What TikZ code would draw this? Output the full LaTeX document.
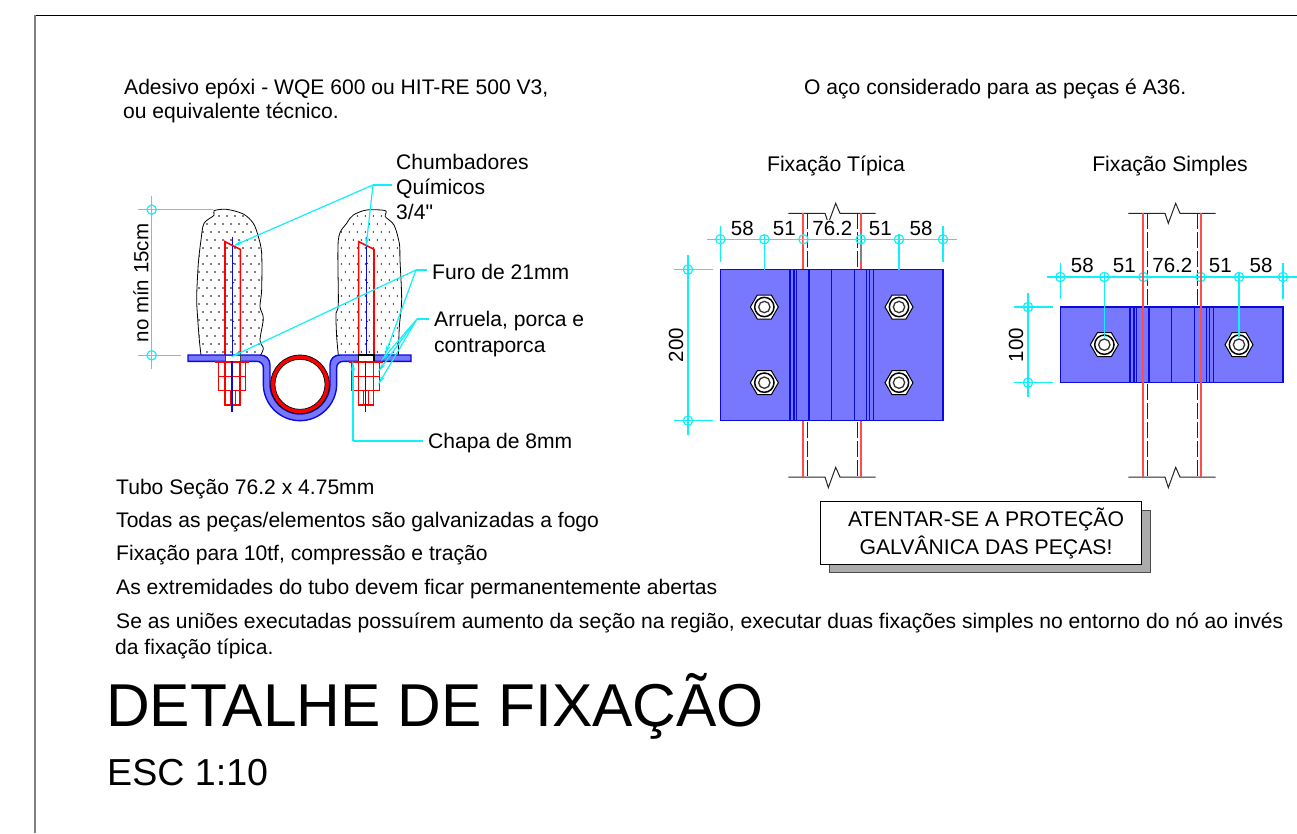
\documentclass[tikz,border=0pt]{standalone}
\usepackage{fontspec}
\setmainfont{Liberation Sans}
\newfontfamily\plainquote{Liberation Sans}
\usetikzlibrary{arrows.meta,calc}
\definecolor{plate}{HTML}{7878FF}
\definecolor{plateedge}{HTML}{0A0ADC}
\definecolor{dimcyan}{HTML}{10F0F8}
\tikzset{
  txt/.style={anchor=base west,inner sep=0pt,yshift=-1pt,font=\fontsize{21.08}{23}\selectfont},
  txtc/.style={anchor=base,inner sep=0pt,yshift=-1pt,font=\fontsize{21.2}{23}\selectfont},
  dimtxt/.style={inner sep=0pt,font=\fontsize{20.5}{22}\selectfont},
  dimb/.style={dimtxt,anchor=base},
  dimline/.style={draw=dimcyan,line width=1.2pt},
  leader/.style={draw=dimcyan,line width=1.2pt},
  leadarrow/.style={leader,-{Stealth[length=10pt,width=4pt,fill=dimcyan]}},
  breakline/.style={draw=black!85,line width=1pt},
  tubered/.style={draw=red!70!white,line width=1.7pt},
  tubedash/.style={draw=black!85,line width=1pt,dash pattern=on 16pt off 3pt},
  platefill/.style={fill=plate,draw=plateedge,line width=1.4pt},
  plateline/.style={draw=plateedge,line width=1.2pt},
  redline/.style={draw=red,line width=1.6pt},
  blueline/.style={draw=plateedge,line width=1.5pt},
  concrete/.style={draw=black,line width=0.8pt}
}
\newcommand{\dimtick}[2]{\draw[dimline] (#1,#2) circle (14);}
\newcommand{\nutbolt}[1]{%
  \draw[redline] (#1-51,96) -- (#1+52,96);
  \draw[redline] (#1-41,96) -- (#1-41,182) -- (#1+41,182) -- (#1+41,96);
  \draw[redline] (#1-41,140) -- (#1+41,140);
  \draw[redline] (#1-21,96) -- (#1-21,225) -- (#1+24,225) -- (#1+24,96);
  \draw[red,line width=1pt] (#1-6,182) -- (#1-6,225) (#1+9,182) -- (#1+9,225);
  \draw[blueline] (#1,94) -- (#1,247);
}
\newcommand{\rod}[1]{%
  \draw[blueline] (#1,290) -- (#1,645);
  \foreach \yy in {370,428,486,544,602} {\fill[plateedge] (#1+3,\yy) circle (2);}
  \draw[redline] (#1-23,645) -- (#1-23,305) -- (#1+23,328) -- (#1+23,645);
}
\newcommand{\bolthead}[2]{%
  \draw[fill=white,draw=black,line width=1pt] (#1-42,#2) -- (#1-21,#2-36) -- (#1+21,#2-36) -- (#1+42,#2) -- (#1+21,#2+36) -- (#1-21,#2+36) -- cycle;
  \draw[black,line width=1.5pt] (#1,#2) circle (29);
  \draw[black!80,line width=1.3pt] (#1,#2) circle (17);
}
\newcommand{\platebody}[2]{%
  \draw[platefill] (181,#1) rectangle (849,#2);
  \foreach \xx in {390,402,410,447,515,583,620,628,640} {\draw[plateline] (\xx,#1) -- (\xx,#2);}
}
\newcommand{\breaks}{%
  \draw[breakline] (385,70) -- (495,70) -- (505,100) -- (527,40) -- (540,70) -- (647,70);
  \draw[breakline] (385,861) -- (495,861) -- (505,893) -- (527,832) -- (540,861) -- (647,861);
  \draw[tubedash] (441.5,70) -- (441.5,861);
  \draw[tubedash] (592,70) -- (592,861);
}
\newcommand{\hdim}[2]{%
  \draw[dimline] (140,#1) -- (890,#1);
  \foreach \xx in {181,849} {\draw[dimline] (\xx,#1-41) -- (\xx,#1+67);}
  \foreach \xx in {313,717} {\draw[dimline] (\xx,#1-15) -- (\xx,#2);}
  \foreach \xx in {430.5,602} {\draw[dimline] (\xx,#1-15) -- (\xx,#1+10); \draw[draw=black!50,line width=1pt] (\xx,#1+10) -- (\xx,#1+67);}
  \foreach \xx in {181,313,430.5,602,717,849} {\dimtick{\xx}{#1}}
}
\newcommand{\vdim}[2]{%
  \draw[dimline] (84,#1-43) -- (84,#2+43);
  \draw[dimline] (42,#1) -- (160,#1) (42,#2) -- (160,#2);
  \dimtick{84}{#1}\dimtick{84}{#2}
}
\begin{document}
\begin{tikzpicture}[x=1pt,y=-1pt]
\useasboundingbox (0,0) rectangle (1297,833);
% sheet frame
\draw[black,line width=1pt] (35,15) -- (1297,15);
\draw[black!50,line width=2pt] (35,15) -- (35,833);

% ---------- section ----------
\begin{scope}[shift={(120,140)},scale=1/3]
  \begin{scope}
    \clip plot[smooth,tension=0.5] coordinates {(243,645) (238,600) (232,520) (230,470) (235,370) (243,300) (252,250) (282,226) (282,212) (320,208) (370,222) (400,250) (415,290) (425,340) (425,450) (420,500) (430,535) (420,600) (430,625) (422,645)} -- cycle;
    \foreach \r in {0,...,17} {
      \pgfmathsetmacro{\off}{mod(\r,2)*12}
      \foreach \c in {0,...,10} {\fill[black] ({225+\c*24+\off},{228+\r*24}) circle (2.4);}
    }
  \end{scope}
  \begin{scope}
    \clip plot[smooth,tension=0.5] coordinates {(655,645) (650,590) (648,520) (655,490) (655,300) (680,250) (700,225) (740,210) (796,212) (796,230) (822,255) (838,310) (840,360) (845,480) (838,560) (835,645)} -- cycle;
    \foreach \r in {0,...,17} {
      \pgfmathsetmacro{\off}{mod(\r,2)*12}
      \foreach \c in {0,...,10} {\fill[black] ({640+\c*24+\off},{228+\r*24}) circle (2.4);}
    }
  \end{scope}
  \draw[concrete] plot[smooth,tension=0.5] coordinates {(243,645) (238,600) (232,520) (230,470) (235,370) (243,300) (252,250) (282,226) (282,212) (320,208) (370,222) (400,250) (415,290) (425,340) (425,450) (420,500) (430,535) (420,600) (430,625) (422,645)};
  \draw[concrete] plot[smooth,tension=0.5] coordinates {(655,645) (650,590) (648,520) (655,490) (655,300) (680,250) (700,225) (740,210) (796,212) (796,230) (822,255) (838,310) (840,360) (845,480) (838,560) (835,645)};
  \rod{338}
  \rod{739}
\end{scope}

\begin{scope}[shift={(180,330)},scale=1/3]
  % bent plate
  \draw[platefill] (24,75) -- (240,75) .. controls (258,75) and (270,87) .. (270,105) -- (270,162)
    arc[start angle=180,end angle=0,radius=90]
    -- (450,105) .. controls (450,87) and (462,75) .. (480,75) -- (693,75) -- (693,94) -- (490,94)
    .. controls (478,94) and (470,102) .. (470,114) -- (470,162)
    arc[start angle=0,end angle=180,radius=110] -- (250,114)
    .. controls (250,102) and (242,94) .. (230,94) -- (24,94) -- cycle;
  % holes
  \draw[fill=white,draw=none] (135,75) rectangle (180,94);
  \draw[black!75,line width=0.9pt] (135,94) -- (135,75) -- (180,75) -- (180,94);
  \draw[fill=white,draw=none] (535,75) rectangle (582,94);
  \draw[black,line width=1.4pt] (535,94) -- (535,75) -- (582,75) -- (582,94);
  % tube
  \draw[fill=red,draw=black,line width=0.7pt] (360,163) circle (88);
  \draw[fill=white,draw=black,line width=0.7pt] (360,163) circle (75);
  \nutbolt{156}
  \nutbolt{557}
  \draw[draw=black!45,line width=1pt] (516,96) -- (516,182);
\end{scope}

% ---------- section dimension and leaders ----------
\begin{scope}[shift={(120,140)},scale=1/3]
  \draw[dimline] (95,168) -- (95,688);
  \draw[dimline] (55,209) -- (280,209) (55,646) -- (183,646);
  \dimtick{95}{209}
  \dimtick{95}{646}
\end{scope}
\node[dimtxt,rotate=90] (nomin) at (141,283) {no mín 15cm};

\coordinate (chumEnd) at (392,185);
\coordinate (chumEl) at (373,185);
\coordinate (chumA) at (233,246);
\coordinate (chumB) at (366,247);
\coordinate (furoEnd) at (427,270);
\coordinate (furoEl) at (416,270);
\coordinate (furoA) at (231,357);
\coordinate (furoB) at (385,355);
\coordinate (arrEnd) at (429,319);
\coordinate (arrEl) at (417,319);
\coordinate (arrA) at (381,361);
\coordinate (arrB) at (378,372);
\coordinate (arrC) at (378,385);
\coordinate (chapaEnd) at (423,441);
\coordinate (chapaEl) at (353,441);
\coordinate (chapaA) at (353,361);
\draw[leader] (chumEnd) -- (chumEl);
\draw[leadarrow] (chumEl) -- (chumA);
\draw[leadarrow] (chumEl) -- (chumB);
\draw[leader] (furoEnd) -- (furoEl);
\draw[leadarrow] (furoEl) -- (furoA);
\draw[leadarrow] (furoEl) -- (furoB);
\draw[leader] (arrEnd) -- (arrEl);
\draw[leadarrow] (arrEl) -- (arrA);
\draw[leadarrow] (arrEl) -- (arrB);
\draw[leadarrow] (arrEl) -- (arrC);
\draw[leader] (chapaEnd) -- (chapaEl);
\draw[leadarrow] (chapaEl) -- (chapaA);

% ---------- typical fixing ----------
\begin{scope}[shift={(660,190)},scale=1/3]
  \breaks
  \draw[tubered] (429,70) -- (429,861);
  \draw[tubered] (602,70) -- (602,861);
  \platebody{239}{692}
  \foreach \xx in {313,717} {\foreach \yy in {351,578} {\bolthead{\xx}{\yy}}}
  \hdim{148}{239}
  \vdim{239}{692}
\end{scope}
\node[dimb,fill=white,inner ysep=1pt] (tc) at (832.3,235) {76.2};
\node[dimb] (ta) at (742.3,235) {58};
\node[dimb] (tb) at (784.3,235) {51};
\node[dimb] (td) at (880.3,235) {51};
\node[dimb] (te) at (921,235) {58};
\node[dimtxt,rotate=90] (tv) at (676,345) {200};

% ---------- simple fixing ----------
\begin{scope}[shift={(1000,190)},scale=1/3]
  \breaks
  \platebody{351}{578}
  \foreach \xx in {313,717} {\bolthead{\xx}{464}}
  \hdim{261}{440}
  \vdim{351}{578}
  \draw[tubered] (429,70) -- (429,861);
  \draw[tubered] (602,70) -- (602,861);
\end{scope}
\node[dimb] (sa) at (1082.3,272.5) {58};
\node[dimb] (sb) at (1124.3,272.5) {51};
\node[dimb] (sc) at (1172.3,272.5) {76.2};
\node[dimb] (sd) at (1220.3,272.5) {51};
\node[dimb] (se) at (1261,272.5) {58};
\node[dimtxt,rotate=90] (sv) at (1016,345) {100};

% ---------- warning box ----------
\fill[black!33] (829,510) rectangle (1150,572.5);
\draw[black!70,line width=1pt] (1141,510) -- (1150,510) -- (1150,572.5) -- (829,572.5) -- (829,564);
\draw[fill=white,draw=black,line width=0.9pt] (820,501) rectangle (1141,564);
\node[txtc] (w1) at (986,525) {ATENTAR-SE A PROTEÇÃO};
\node[txtc] (w2) at (986,553) {GALVÂNICA DAS PEÇAS!};

% ---------- texts ----------
\node[txt] (n1) at (124,93) {Adesivo epóxi - WQE 600 ou HIT-RE 500 V3,};
\node[txt] (n2) at (123,117) {ou equivalente técnico.};
\node[txt] (n3) at (804,93) {O aço considerado para as peças é A36.};
\node[txtc] (t1) at (836,170) {Fixação Típica};
\node[txtc] (t2) at (1170,170) {Fixação Simples};
\node[txt] (c1) at (396,168) {Chumbadores};
\node[txt] (c2) at (396,193) {Químicos};
\node[txt] (c3) at (396,218) {\plainquote 3/4"};
\node[txt] (f1) at (432,278) {Furo de 21mm};
\node[txt] (a1) at (434,325) {Arruela, porca e};
\node[txt] (a2) at (434,351) {contraporca};
\node[txt] (ch) at (428,447) {Chapa de 8mm};
\node[txt] (g1) at (116,493) {Tubo Seção 76.2 x 4.75mm};
\node[txt] (g2) at (116,526) {Todas as peças/elementos são galvanizadas a fogo};
\node[txt] (g3) at (116,559) {Fixação para 10tf, compressão e tração};
\node[txt] (g4) at (116,593) {As extremidades do tubo devem ficar permanentemente abertas};
\node[txt] (g5) at (116,627) {Se as uniões executadas possuírem aumento da seção na região, executar duas fixações simples no entorno do nó ao invés};
\node[txt] (g6) at (115,653) {da fixação típica.};
\node[anchor=base west,inner sep=0pt,font=\fontsize{60.5}{62}\selectfont] (title) at (106,726) {DETALHE DE FIXAÇÃO};
\node[anchor=base west,inner sep=0pt,font=\fontsize{37.6}{40}\selectfont] (esc) at (107,785) {ESC 1:10};
\end{tikzpicture}
\end{document}
